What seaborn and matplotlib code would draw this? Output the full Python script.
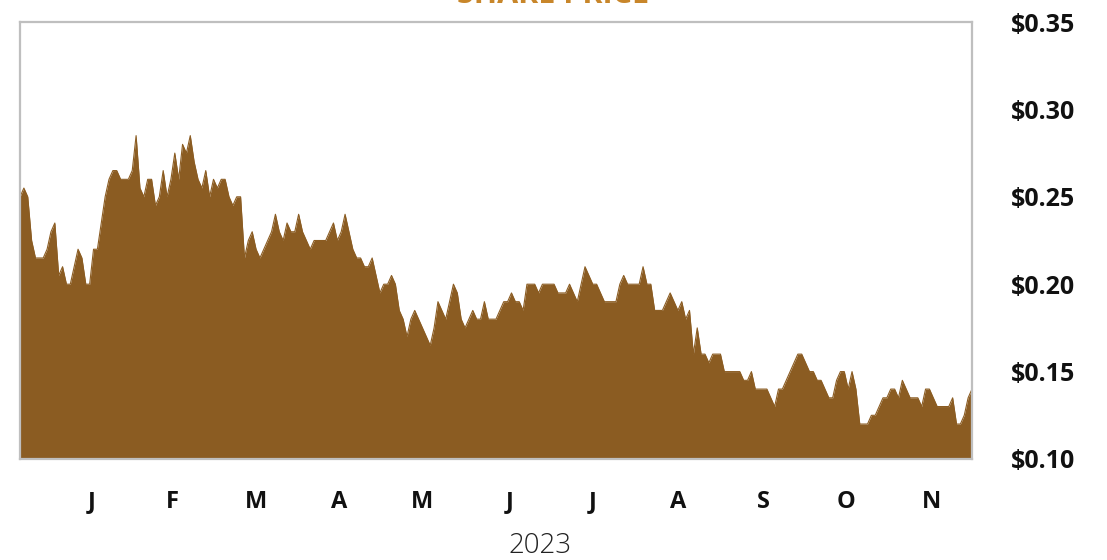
import numpy as np
import pandas as pd
import matplotlib
matplotlib.use("Agg")
import matplotlib.pyplot as plt
import seaborn as sns

# ---- data (daily closing share price) ----
start_date = "2022-12-21"
price = [
    0.25, 0.255, 0.25, 0.225, 0.215, 0.215, 0.215, 0.22, 0.23, 0.235,
    0.205, 0.21, 0.20, 0.20, 0.21, 0.22, 0.215, 0.20, 0.20, 0.22,
    0.22, 0.235, 0.25, 0.26, 0.265, 0.265, 0.26, 0.26, 0.26, 0.265,
    0.285, 0.255, 0.25, 0.26, 0.26, 0.245, 0.25, 0.265, 0.25, 0.26,
    0.275, 0.26, 0.28, 0.275, 0.285, 0.27, 0.26, 0.255, 0.265, 0.25,
    0.26, 0.255, 0.26, 0.26, 0.25, 0.245, 0.25, 0.25, 0.215, 0.225,
    0.23, 0.22, 0.215, 0.22, 0.225, 0.23, 0.24, 0.23, 0.225, 0.235,
    0.23, 0.23, 0.24, 0.23, 0.225, 0.22, 0.225, 0.225, 0.225, 0.225,
    0.23, 0.235, 0.225, 0.23, 0.24, 0.23, 0.22, 0.215, 0.215, 0.21,
    0.21, 0.215, 0.205, 0.195, 0.20, 0.20, 0.205, 0.20, 0.185, 0.18,
    0.17, 0.18, 0.185, 0.18, 0.175, 0.17, 0.165, 0.175, 0.19, 0.185,
    0.18, 0.19, 0.20, 0.195, 0.18, 0.175, 0.18, 0.185, 0.18, 0.18,
    0.19, 0.18, 0.18, 0.18, 0.185, 0.19, 0.19, 0.195, 0.19, 0.19,
    0.185, 0.20, 0.20, 0.20, 0.195, 0.20, 0.20, 0.20, 0.20, 0.195,
    0.195, 0.195, 0.20, 0.195, 0.19, 0.20, 0.21, 0.205, 0.20, 0.20,
    0.195, 0.19, 0.19, 0.19, 0.19, 0.20, 0.205, 0.20, 0.20, 0.20,
    0.20, 0.21, 0.20, 0.20, 0.185, 0.185, 0.185, 0.19, 0.195, 0.19,
    0.185, 0.19, 0.18, 0.185, 0.16, 0.175, 0.16, 0.16, 0.155, 0.16,
    0.16, 0.16, 0.15, 0.15, 0.15, 0.15, 0.15, 0.145, 0.145, 0.15,
    0.14, 0.14, 0.14, 0.14, 0.135, 0.13, 0.14, 0.14, 0.145, 0.15,
    0.155, 0.16, 0.16, 0.155, 0.15, 0.15, 0.145, 0.145, 0.14, 0.135,
    0.135, 0.145, 0.15, 0.15, 0.14, 0.15, 0.14, 0.12, 0.12, 0.12,
    0.125, 0.125, 0.13, 0.135, 0.135, 0.14, 0.14, 0.135, 0.145, 0.14,
    0.135, 0.135, 0.135, 0.13, 0.14, 0.14, 0.135, 0.13, 0.13, 0.13,
    0.13, 0.135, 0.12, 0.12, 0.125, 0.135, 0.14,
]
month_letters = ["J", "F", "M", "A", "M", "J", "J", "A", "S", "O", "N"]
y_ticks = [0.10, 0.15, 0.20, 0.25, 0.30, 0.35]
year_label = "2023"
title = "SHARE PRICE"

# ---- frame ----
dates = pd.bdate_range(start_date, periods=len(price))
df = pd.DataFrame({"idx": np.arange(len(price)), "date": dates, "price": price})
df["month"] = df["date"].dt.to_period("M")
centers = df[df["date"].dt.year == 2023].groupby("month")["idx"].mean().values

sns.set_theme(style="white")
plt.rcParams["font.family"] = ["Open Sans", "DejaVu Sans"]

fill_color = "#8B5C22"
fig = plt.figure(figsize=(11.07, 5.60), dpi=100)
ax = fig.add_axes([20 / 1107, 101 / 560, 952 / 1107, 437 / 560])

sns.lineplot(data=df, x="idx", y="price", ax=ax, color=fill_color, linewidth=0.8)
ax.fill_between(df["idx"], df["price"], 0, color=fill_color, linewidth=0)

ax.set_xlim(0, len(price) - 1)
ax.set_ylim(0.10, 0.35)

ax.yaxis.tick_right()
ax.set_yticks(y_ticks)
ax.set_yticklabels([f"${v:.2f}" for v in y_ticks], fontsize=18, fontweight="bold", color="#111111")
ax.set_xticks(centers)
ax.set_xticklabels(month_letters, fontsize=17, fontweight="bold", color="#111111")
ax.tick_params(axis="y", length=0, pad=28)
ax.tick_params(axis="x", length=0, pad=22)
ax.set_ylabel("")
ax.set_xlabel(year_label, fontsize=20, color="#222222", fontweight="light")
ax.xaxis.set_label_coords((540 - 20) / 952, -0.168)

for side in ["top", "right", "left", "bottom"]:
    ax.spines[side].set_visible(True)
    ax.spines[side].set_color("#BFBFBF")
    ax.spines[side].set_linewidth(1.6)

fig.text(0.5, 0.982, title, ha="center", va="bottom", fontsize=22,
         fontweight="bold", color="#C8862A")

fig.savefig("out.png", dpi=100)
